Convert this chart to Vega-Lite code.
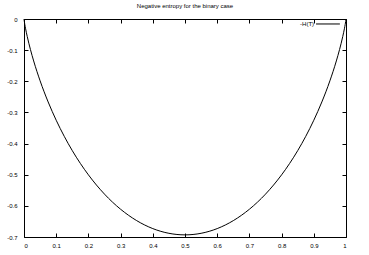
{
  "$schema": "https://vega.github.io/schema/vega-lite/v6.json",
  "width": 322,
  "height": 218,
  "autosize": {"type": "none"},
  "padding": {"left": 24, "top": 19, "right": 23, "bottom": 18},
  "background": "white",
  "config": {
    "view": {"stroke": "black", "strokeWidth": 1},
    "font": "Liberation Sans",
    "axis": {"grid": false, "domain": false, "tickColor": "black", "tickSize": -4, "labelFont": "Liberation Sans", "labelFontSize": 6, "labelColor": "black", "titleFontSize": 0}
  },
  "title": {"text": "Negative entropy for the binary case", "fontSize": 6, "font": "Liberation Sans", "fontWeight": "normal", "color": "black", "offset": 7, "anchor": "middle"},
  "datasets": {
    "curve": [
      {"p": 0, "h": 0}, {"p": 0.001, "h": -0.00791}, {"p": 0.0025, "h": -0.01748}, {"p": 0.005, "h": -0.03148},
      {"p": 0.01, "h": -0.0560}, {"p": 0.02, "h": -0.09804}, {"p": 0.03, "h": -0.13474}, {"p": 0.05, "h": -0.19852},
      {"p": 0.075, "h": -0.26639}, {"p": 0.1, "h": -0.32508}, {"p": 0.125, "h": -0.37677}, {"p": 0.15, "h": -0.42271},
      {"p": 0.175, "h": -0.46373}, {"p": 0.2, "h": -0.50040}, {"p": 0.25, "h": -0.56234}, {"p": 0.3, "h": -0.61086},
      {"p": 0.35, "h": -0.64745}, {"p": 0.4, "h": -0.67301}, {"p": 0.45, "h": -0.68814}, {"p": 0.5, "h": -0.693147},
      {"p": 0.55, "h": -0.68814}, {"p": 0.6, "h": -0.67301}, {"p": 0.65, "h": -0.64745}, {"p": 0.7, "h": -0.61086},
      {"p": 0.75, "h": -0.56234}, {"p": 0.8, "h": -0.50040}, {"p": 0.825, "h": -0.46373}, {"p": 0.85, "h": -0.42271},
      {"p": 0.875, "h": -0.37677}, {"p": 0.9, "h": -0.32508}, {"p": 0.925, "h": -0.26639}, {"p": 0.95, "h": -0.19852},
      {"p": 0.97, "h": -0.13474}, {"p": 0.98, "h": -0.09804}, {"p": 0.99, "h": -0.0560}, {"p": 0.995, "h": -0.03148},
      {"p": 0.9975, "h": -0.01748}, {"p": 0.999, "h": -0.00791}, {"p": 1, "h": 0}
    ],
    "legend": [{"x": 0.907, "x2": 0.981, "y": -0.016, "label": "-H(T)"}]
  },
  "layer": [
    {
      "data": {"name": "curve"},
      "mark": {"type": "line", "color": "black", "strokeWidth": 1, "interpolate": "monotone"},
      "encoding": {
        "x": {"field": "p", "type": "quantitative", "scale": {"domain": [0, 1], "nice": false, "zero": false},
              "axis": {"orient": "bottom", "values": [0,0.1,0.2,0.3,0.4,0.5,0.6,0.7,0.8,0.9,1], "format": "~g", "labelPadding": 9, "title": null}},
        "y": {"field": "h", "type": "quantitative", "scale": {"domain": [-0.7, 0], "nice": false, "zero": false},
              "axis": {"orient": "left", "values": [-0.7,-0.6,-0.5,-0.4,-0.3,-0.2,-0.1,0], "format": "~g", "labelPadding": 11, "labelExpr": "replace(datum.label, '−', '-')", "title": null}}
      }
    },
    {
      "data": {"name": "legend"},
      "mark": {"type": "rule", "color": "black", "strokeWidth": 1},
      "encoding": {
        "x": {"field": "x", "type": "quantitative", "axis": {"orient": "top", "values": [0,0.1,0.2,0.3,0.4,0.5,0.6,0.7,0.8,0.9,1], "labels": false, "title": null}},
        "x2": {"field": "x2"},
        "y": {"field": "y", "type": "quantitative", "axis": {"orient": "right", "values": [-0.7,-0.6,-0.5,-0.4,-0.3,-0.2,-0.1,0], "labels": false, "title": null}}
      }
    },
    {
      "data": {"name": "legend"},
      "mark": {"type": "text", "align": "right", "baseline": "middle", "dx": -2, "fontSize": 6, "font": "Liberation Sans", "color": "black"},
      "encoding": {
        "x": {"field": "x", "type": "quantitative", "axis": null},
        "y": {"field": "y", "type": "quantitative", "axis": null},
        "text": {"field": "label"}
      }
    }
  ],
  "resolve": {"axis": {"x": "independent", "y": "independent"}}
}
